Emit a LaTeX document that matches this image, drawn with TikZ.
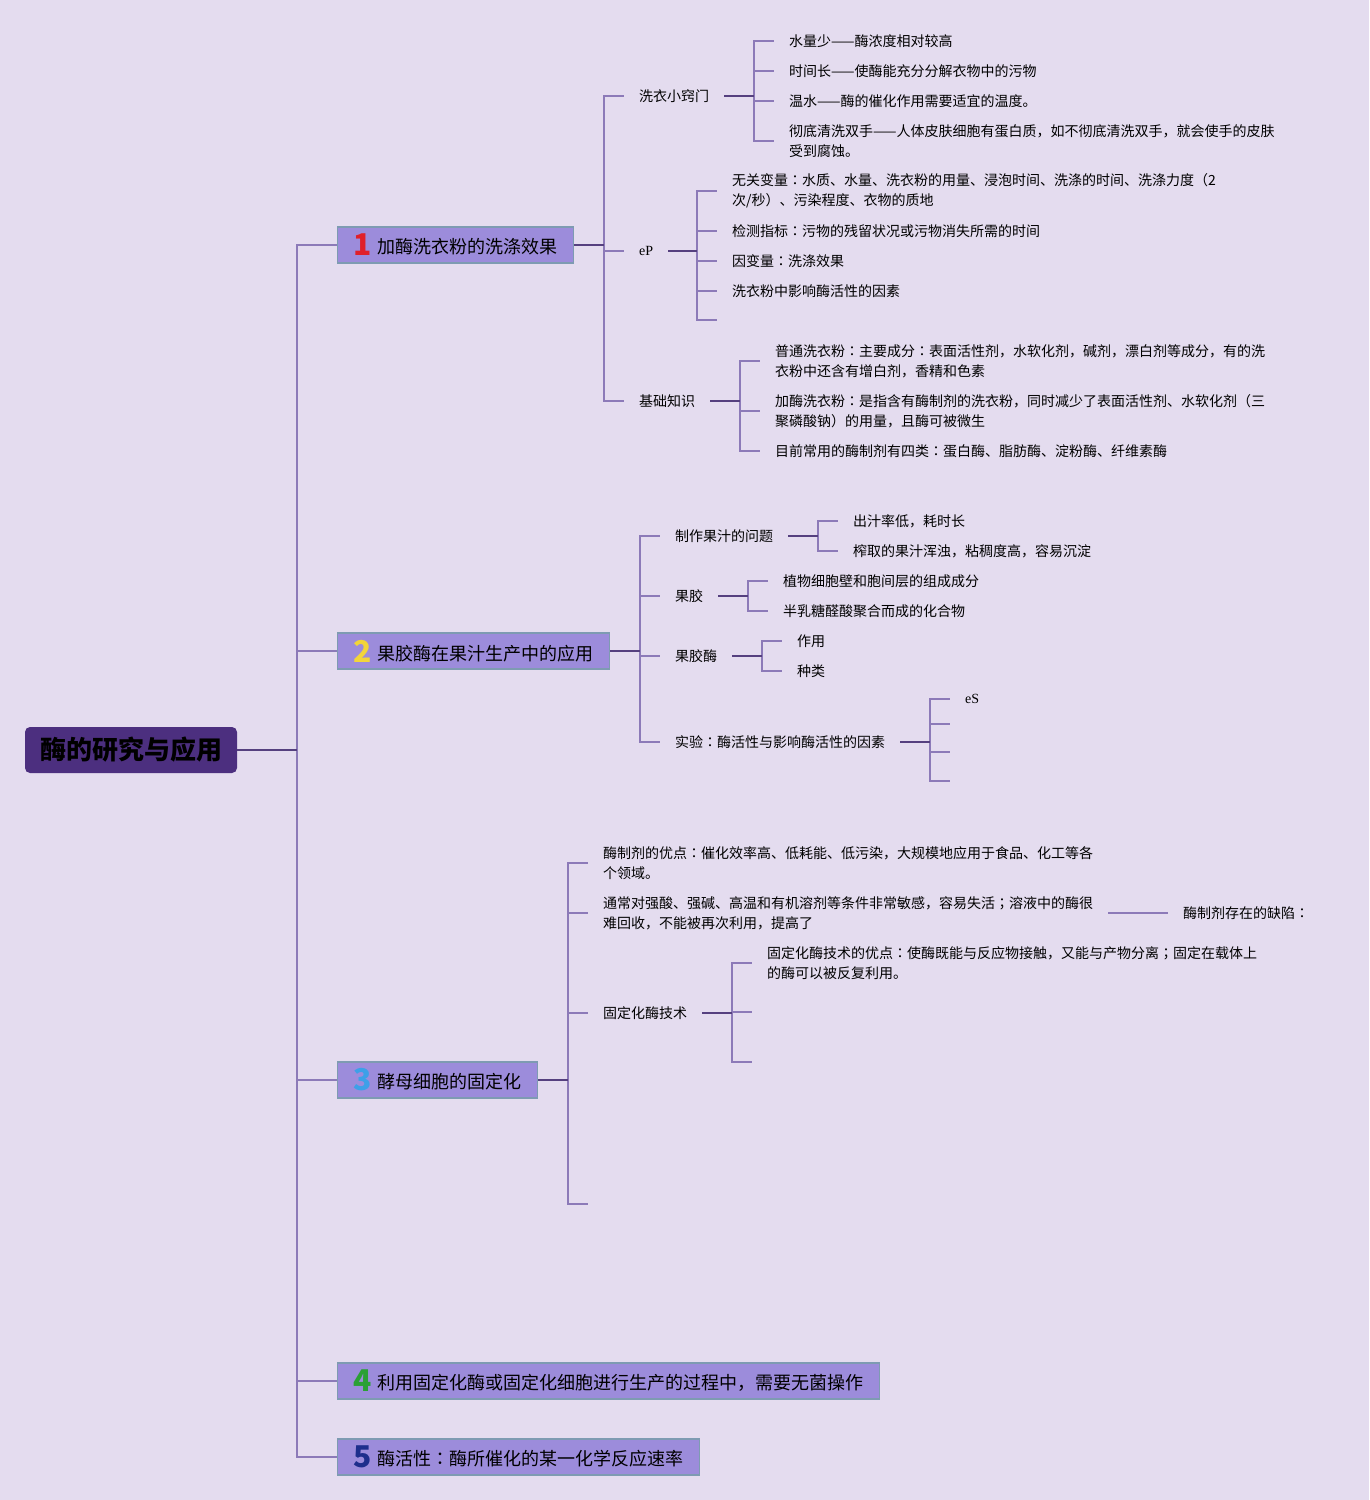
\documentclass[tikz,border=0pt]{standalone}
\usepackage{fontspec}
\setmainfont{Noto Sans CJK SC}
\newfontfamily\latinserif{Liberation Serif}
\newfontfamily\jpfont{Noto Sans CJK JP}
\usepackage{xcolor}
\usepackage{tikz}
\usetikzlibrary{positioning}

\definecolor{bgpurple}{HTML}{E4DCEF}
\definecolor{boxfill}{HTML}{9C8CDB}
\definecolor{boxedge}{HTML}{7E9BB2}
\definecolor{rootfill}{HTML}{4C2F7F}
\definecolor{linedark}{HTML}{55407F}
\definecolor{linelight}{HTML}{8C7AB8}
\definecolor{numred}{HTML}{E0202A}
\definecolor{numyellow}{HTML}{F2D53A}
\definecolor{numblue}{HTML}{3DA0E8}
\definecolor{numgreen}{HTML}{2AA035}
\definecolor{numnavy}{HTML}{1E2E8C}

\newcommand{\topicnum}[2]{\raisebox{-2pt}{\fontsize{30}{30}\selectfont\bfseries\textcolor{#1}{#2}}\hspace{6pt}}
\newcommand{\zhcolon}{{\jpfont ：}}
\newcommand{\zhsemi}{{\jpfont ；}}

\tikzset{
  root/.style={fill=rootfill, rounded corners=5pt, minimum width=212pt, minimum height=46pt,
    inner sep=0pt, font=\fontsize{26}{30}\selectfont\bfseries, text=black},
  topic/.style={draw=boxedge, fill=boxfill, line width=1.2pt, minimum height=36pt,
    inner xsep=16pt, inner ysep=0pt, anchor=west, font=\fontsize{18}{22}\selectfont},
  leaf/.style={anchor=west, inner xsep=15pt, inner ysep=2pt, align=left,
    font=\fontsize{14}{20}\selectfont},
  stem/.style={draw=linedark, line width=2pt},
  twig/.style={draw=linelight, line width=1.5pt},
}

\begin{document}
\begin{tikzpicture}[x=1pt,y=-1pt]
  % background
  \fill[bgpurple] (0,0) rectangle (1369,1500);

  % root and main topics
  \node[root] (root) at (131,750) {酶的研究与应用};
  \node[topic] (box1) at (337,245) {\topicnum{numred}{1}加酶洗衣粉的洗涤效果};
  \node[topic] (box2) at (337,651) {\topicnum{numyellow}{2}果胶酶在果汁生产中的应用};
  \node[topic] (box3) at (337,1080) {\topicnum{numblue}{3}酵母细胞的固定化};
  \node[topic] (box4) at (337,1381) {\topicnum{numgreen}{4}利用固定化酶或固定化细胞进行生产的过程中，需要无菌操作};
  \node[topic] (box5) at (337,1457) {\topicnum{numnavy}{5}酶活性\zhcolon 酶所催化的某一化学反应速率};

  % topic 1
  \node[leaf] (tips) at (624,96) {洗衣小窍门};
  \node[leaf] (ep) at (624,251) {\latinserif eP};
  \node[leaf] (basic) at (624,401) {基础知识};

  \node[leaf] (t1) at (774,41) {水量少——酶浓度相对较高};
  \node[leaf] (t2) at (774,71) {时间长——使酶能充分分解衣物中的污物};
  \node[leaf] (t3) at (774,101) {温水——酶的催化作用需要适宜的温度。};
  \node[leaf] (t4) at (774,141) {彻底清洗双手——人体皮肤细胞有蛋白质，如不彻底清洗双手，就会使手的皮肤\\受到腐蚀。};

  \node[leaf] (e1) at (717,191) {无关变量\zhcolon 水质、水量、洗衣粉的用量、浸泡时间、洗涤的时间、洗涤力度（2\\次/秒）、污染程度、衣物的质地};
  \node[leaf] (e2) at (717,231) {检测指标\zhcolon 污物的残留状况或污物消失所需的时间};
  \node[leaf] (e3) at (717,261) {因变量\zhcolon 洗涤效果};
  \node[leaf] (e4) at (717,291) {洗衣粉中影响酶活性的因素};
  \node[leaf] (e5) at (717,320) {};

  \node[leaf] (b1) at (760,361) {普通洗衣粉\zhcolon 主要成分\zhcolon 表面活性剂，水软化剂，碱剂，漂白剂等成分，有的洗\\衣粉中还含有增白剂，香精和色素};
  \node[leaf] (b2) at (760,411) {加酶洗衣粉\zhcolon 是指含有酶制剂的洗衣粉，同时减少了表面活性剂、水软化剂（三\\聚磷酸钠）的用量，且酶可被微生};
  \node[leaf] (b3) at (760,451) {目前常用的酶制剂有四类\zhcolon 蛋白酶、脂肪酶、淀粉酶、纤维素酶};

  % topic 2
  \node[leaf] (juice) at (660,536) {制作果汁的问题};
  \node[leaf] (pectin) at (660,596) {果胶};
  \node[leaf] (pase) at (660,656) {果胶酶};
  \node[leaf] (exp) at (660,742) {实验\zhcolon 酶活性与影响酶活性的因素};

  \node[leaf] (j1) at (838,521) {出汁率低，耗时长};
  \node[leaf] (j2) at (838,551) {榨取的果汁浑浊，粘稠度高，容易沉淀};
  \node[leaf] (p1) at (768,581) {植物细胞壁和胞间层的组成成分};
  \node[leaf] (p2) at (768,611) {半乳糖醛酸聚合而成的化合物};
  \node[leaf] (q1) at (782,641) {作用};
  \node[leaf] (q2) at (782,671) {种类};
  \node[leaf] (x1) at (950,699) {\latinserif eS};
  \node[leaf] (x2) at (950,724) {};
  \node[leaf] (x3) at (950,752) {};
  \node[leaf] (x4) at (950,781) {};

  % topic 3
  \node[leaf] (a1) at (588,863) {酶制剂的优点\zhcolon 催化效率高、低耗能、低污染，大规模地应用于食品、化工等各\\个领域。};
  \node[leaf] (a2) at (588,913) {通常对强酸、强碱、高温和有机溶剂等条件非常敏感，容易失活\zhsemi 溶液中的酶很\\难回收，不能被再次利用，提高了};
  \node[leaf] (tech) at (588,1013) {固定化酶技术};
  \node[leaf] (a4) at (588,1204) {};
  \node[leaf] (flaw) at (1168,913) {酶制剂存在的缺陷\zhcolon};

  \node[leaf] (m1) at (752,963) {固定化酶技术的优点\zhcolon 使酶既能与反应物接触，又能与产物分离\zhsemi 固定在载体上\\的酶可以被反复利用。};
  \node[leaf] (m2) at (752,1012) {};
  \node[leaf] (m3) at (752,1062) {};

  % bracket columns
  \coordinate (kMain) at (297,0);
  \coordinate (kOne) at (604,0);
  \coordinate (kTips) at (754,0);
  \coordinate (kEp) at (697,0);
  \coordinate (kBasic) at (740,0);
  \coordinate (kTwo) at (640,0);
  \coordinate (kJuice) at (818,0);
  \coordinate (kPectin) at (748,0);
  \coordinate (kPase) at (762,0);
  \coordinate (kExp) at (930,0);
  \coordinate (kThree) at (568,0);
  \coordinate (kTech) at (732,0);

  % connectors: parent -> bracket -> children
  \foreach \p/\k/\kids in {root/kMain/{box1,box2,box3,box4,box5},
      box1/kOne/{tips,ep,basic}, tips/kTips/{t1,t2,t3,t4},
      ep/kEp/{e1,e2,e3,e4,e5}, basic/kBasic/{b1,b2,b3},
      box2/kTwo/{juice,pectin,pase,exp}, juice/kJuice/{j1,j2},
      pectin/kPectin/{p1,p2}, pase/kPase/{q1,q2}, exp/kExp/{x1,x2,x3,x4},
      box3/kThree/{a1,a2,tech,a4}, tech/kTech/{m1,m2,m3}} {
    \foreach \c in \kids
      \draw[twig] (\k |- \p.east) -- (\k |- \c.west) -- (\c.west);
    \draw[stem] (\p.east) -- (\k |- \p.east);
  }

  % side label of the second item
  \draw[twig] (a2.east) -- (flaw.west);
\end{tikzpicture}
\end{document}
